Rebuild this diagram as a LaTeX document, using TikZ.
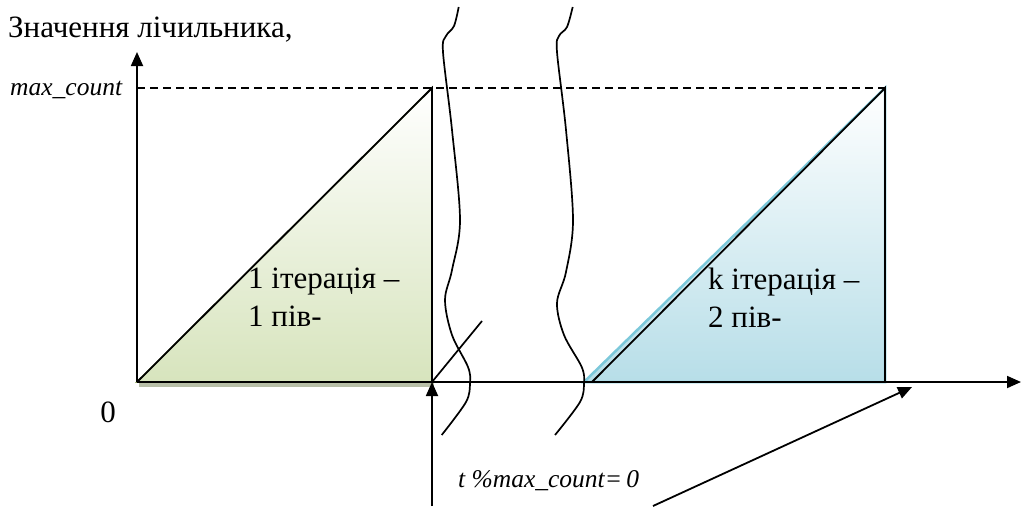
\documentclass[tikz,border=0pt]{standalone}
\usepackage{fontspec}
\setmainfont{Liberation Serif}
\usetikzlibrary{arrows.meta,positioning,calc}
\definecolor{olivefill}{HTML}{D7E4BD}
\definecolor{oliveline}{HTML}{8EA55A}
\definecolor{oliveshade}{HTML}{B8BFA8}
\definecolor{bluefill}{HTML}{B7DEE8}
\definecolor{blueline}{HTML}{7CC8DA}
\tikzset{axis/.style={-{Triangle[length=14pt,width=12pt]},line width=1.8pt},lbl/.style={font=\fontsize{31}{38}\selectfont,align=left,inner sep=0pt},var/.style={font=\itshape\fontsize{25.5}{28}\selectfont,inner sep=0pt},wave/.style={line width=1.7pt}}

\begin{document}
\begin{tikzpicture}[x=1pt,y=-1pt]
\useasboundingbox (0,0) rectangle (1022,506);
% points of the chart
\coordinate (o) at (137,382);
\coordinate (ytop) at (137,52);
\coordinate (xend) at (1021,382);
\coordinate (ymax) at (137,88);
\coordinate (atop) at (432,88);
\coordinate (abot) at (432,382);
\coordinate (bstart) at (592,382);
\coordinate (btop) at (885,88);
\coordinate (bbot) at (885,382);
\coordinate (tick) at (482,321);
\coordinate (up) at (432,506);
\coordinate (slant) at (653,506);
\coordinate (slanttip) at (912,387);
% triangles
\fill[oliveshade] (139,382) rectangle (434,387);
\fill[top color=white,bottom color=olivefill] (o)--(atop)--(abot)--cycle;
\draw[oliveline,line width=1.5pt] (o)--(atop)--(abot)--cycle;
\draw[line width=1.8pt] (o)--(atop)--(abot);
\fill[top color=white,bottom color=bluefill] (584,382)--(btop)--(bbot)--cycle;
\draw[blueline,line width=2.5pt] (584,382)--(btop)--(bbot)--cycle;
\draw[line width=1.8pt] (bstart)--(btop)--(bbot);
% axes
\draw[dashed,dash pattern=on 8pt off 5pt,line width=1.5pt] (ymax)--(btop);
\draw[axis] (o)--(ytop);
\draw[axis] (o)--(xend);
\draw[axis] (up)--(abot);
\draw[axis] (slant)--(slanttip);
\draw[line width=1.7pt] (abot)--(tick);
% breaks
\draw[wave] plot[smooth,tension=0.55] coordinates {(458.7,7) (454,26) (446,36) (443,52) (452,130) (460,220) (452,270) (445,300) (452,335) (468,367) (470,383) (466,402) (441.7,435)};
\draw[wave] plot[smooth,tension=0.55] coordinates {(572.7,7) (567,27) (559,36) (557,52) (566,130) (573,220) (566,272) (557,303) (564,335) (581.7,367) (584,383) (580,402) (555,435)};
% texts
\node[lbl,anchor=base west] (title) at (8,37) {Значення лічильника,};
\node[var,anchor=base west] (maxc) at (10,95) {max\_count};
\node[lbl] (zero) at (108,412) {0};
\node[lbl,anchor=base west] (first) at (248,326) {1 ітерація –\\1 пів-};
\node[lbl,anchor=base west] (last) at (708,327) {k ітерація –\\2 пів-};
\node[var,anchor=base west] (cond) at (458,487) {t \%max\_count=\,0};
\end{tikzpicture}
\end{document}
